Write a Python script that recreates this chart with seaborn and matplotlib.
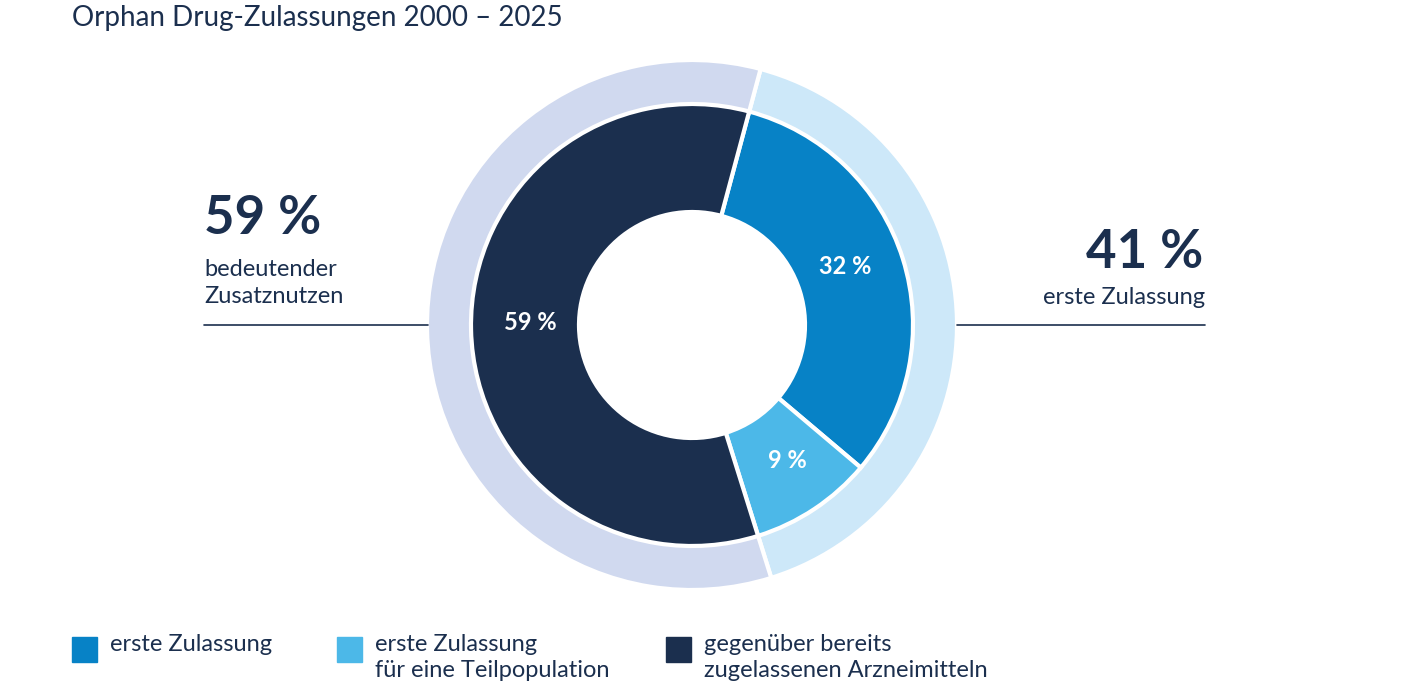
import matplotlib
matplotlib.use("Agg")
import matplotlib.pyplot as plt
import seaborn as sns
from matplotlib.patches import Rectangle

# ── Data ──────────────────────────────────────────────────────────────────────
outer_labels = ["erste Zulassung", "bedeutender Zusatznutzen"]
outer_values = [41, 59]
inner_labels = ["erste Zulassung", "erste Zulassung\nfür eine Teilpopulation",
                "gegenüber bereits\nzugelassenen Arzneimitteln"]
inner_values = [32, 9, 59]

NAVY = "#1b2f4e"
outer_colors = ["#cde8f9", "#d0d9ef"]
inner_colors = ["#0782c6", "#4cb8e8", NAVY]

sns.set_theme(style="white")
plt.rcParams["font.family"] = ["Lato", "DejaVu Sans"]

fig = plt.figure(figsize=(14.01, 7.0), dpi=100)
ax = fig.add_axes([0, 0, 1, 1])
ax.set_xlim(0, 1401)
ax.set_ylim(0, 700)
ax.set_aspect("equal")
ax.axis("off")

cx, cy = 692, 700 - 325
# outer ring
ax.pie(outer_values, colors=outer_colors, radius=265, center=(cx, cy),
       startangle=75, counterclock=False, frame=True,
       wedgeprops=dict(width=46, edgecolor="white", linewidth=3))
# inner donut
wedges, _ = ax.pie(inner_values, colors=inner_colors, radius=221, center=(cx, cy),
                   startangle=75, counterclock=False, frame=True,
                   wedgeprops=dict(width=108, edgecolor="white", linewidth=3))
ax.set_xlim(0, 1401)
ax.set_ylim(0, 700)
ax.axis("off")

# wedge labels
for (x, y), v in zip([(845, 267), (787, 460), (530, 323)], inner_values):
    ax.text(x, 700 - y, f"{v} %", color="white", fontsize=17, fontweight="bold",
            ha="center", va="center")

ax.text(72, 700 - 18, "Orphan Drug-Zulassungen 2000 – 2025", color=NAVY,
        fontsize=20, va="center", ha="left")

# side annotations
ax.text(204, 700 - 218, f"{outer_values[1]} %", color=NAVY, fontsize=38,
        fontweight="bold", va="center", ha="left")
ax.text(204, 700 - 283, "bedeutender\nZusatznutzen", color=NAVY, fontsize=17,
        va="center", ha="left", linespacing=1.3)
ax.plot([204, 428], [700 - 325, 700 - 325], color=NAVY, lw=1.2)

ax.text(1203, 700 - 252, f"{outer_values[0]} %", color=NAVY, fontsize=38,
        fontweight="bold", va="center", ha="right")
ax.text(1205, 700 - 298, outer_labels[0], color=NAVY, fontsize=17,
        va="center", ha="right")
ax.plot([957, 1205], [700 - 325, 700 - 325], color=NAVY, lw=1.2)

# legend
for x, lbl, c in zip([72, 337, 666], inner_labels, inner_colors):
    ax.add_patch(Rectangle((x, 700 - 662), 25, 25, color=c))
    ax.text(x + 38, 700 - 634, lbl, color=NAVY, fontsize=17, va="top",
            ha="left", linespacing=1.3)

fig.savefig("out.png", dpi=100)
